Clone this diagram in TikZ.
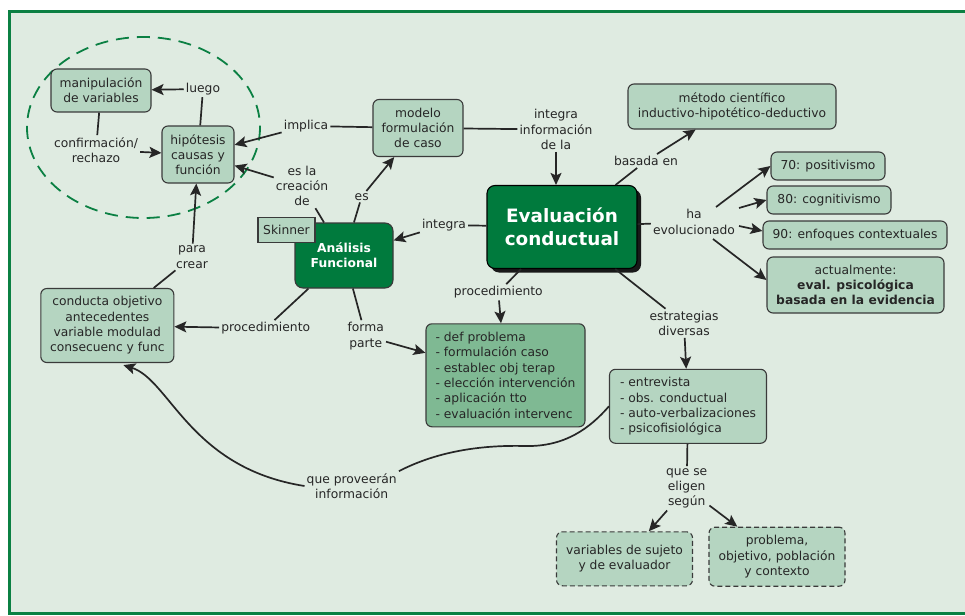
\documentclass[tikz,border=0pt]{standalone}
\usepackage{fontspec}
\setmainfont{DejaVu Sans}
\usetikzlibrary{arrows.meta,shadows,calc}
\definecolor{bg}{HTML}{DFEBE1}
\definecolor{framec}{HTML}{0B8043}
\definecolor{dk}{HTML}{007A3D}
\definecolor{lt}{HTML}{B5D5C1}
\definecolor{md}{HTML}{7FB993}
\definecolor{txt}{HTML}{262626}
\definecolor{edge}{HTML}{3A3A3A}
\begin{document}
\begin{tikzpicture}[x=1pt,y=-1pt,
  every node/.style={font=\fontsize{12.3}{15.3}\selectfont, text=txt},
  box/.style={draw=edge, line width=1.1pt, rounded corners=6pt, fill=lt, align=center, inner sep=0pt},
  dbox/.style={box, dash pattern=on 5pt off 3pt},
  lbl/.style={align=center, inner sep=2pt},
  conn/.style={draw=txt, line width=1.7pt},
  arr/.style={conn, -{Stealth[length=12pt,width=11pt,inset=2.5pt]}},
]
\useasboundingbox (0,0) rectangle (965,615);
\fill[white] (0,0) rectangle (965,615);
\draw[fill=bg, draw=framec, line width=3.5pt] (9.5,11.5) rectangle (990,613.5);
\draw[framec, line width=1.8pt, dash pattern=on 13pt off 8pt] (143.5,127.5) ellipse [x radius=116.5, y radius=90.5];

% concepts
\node[box, minimum width=100pt, minimum height=43pt] (manip) at (101,90.5) {manipulación\\de variables};
\node[box, minimum width=72pt, minimum height=57pt] (hip) at (198,154.5) {hipótesis\\causas y\\función};
\node[box, minimum width=90pt, minimum height=57pt] (modelo) at (418,128) {modelo\\formulación\\de caso};
\node[box, minimum width=208pt, minimum height=45pt] (metodo) at (732,106.5) {método científico\\inductivo-hipotético-deductivo};
\node[box, minimum width=114pt, minimum height=28pt] (p70) at (828,166) {70: positivismo};
\node[box, minimum width=124pt, minimum height=28pt] (p80) at (829,200) {80: cognitivismo};
\node[box, minimum width=184pt, minimum height=28pt] (p90) at (855,235) {90: enfoques contextuales};
\node[box, minimum width=177pt, minimum height=56pt] (act) at (855.5,285) {actualmente:\\\textbf{eval. psicológica}\\\textbf{basada en la evidencia}};
\node[box, fill=dk, draw=black, rounded corners=8pt, minimum width=150pt, minimum height=83pt,
  drop shadow={shadow xshift=4pt, shadow yshift=-4pt, fill=black!90, opacity=1},
  font=\fontsize{18.4}{23}\selectfont\bfseries, text=white] (eval) at (562,227) {Evaluación\\conductual};
\node[box, fill=dk, rounded corners=8pt, minimum width=98pt, minimum height=65pt,
  font=\fontsize{12.3}{15.3}\selectfont\bfseries, text=white] (af) at (344,255.5) {Análisis\\Funcional};
\node[draw=edge, line width=1.1pt, fill=lt, minimum width=57pt, minimum height=25pt, inner sep=0pt] (sk) at (286.5,230) {Skinner};
\node[box, minimum width=133pt, minimum height=74pt] (cond) at (107.3,325.5) {conducta objetivo\\antecedentes\\variable modulad\\consecuenc y func};
\node[box, fill=md, align=left, minimum width=159pt, minimum height=103pt] (defb) at (505.5,375.3) {- def problema\\- formulación caso\\- establec obj terap\\- elección intervención\\- aplicación tto\\- evaluación intervenc};
\node[box, align=left, minimum width=157pt, minimum height=74pt] (entrev) at (688,406.3) {- entrevista\\- obs. conductual\\- auto-verbalizaciones\\- psicofisiológica};
\node[dbox, minimum width=136pt, minimum height=54pt] (vars) at (624.5,558.8) {variables de sujeto\\y de evaluador};
\node[dbox, minimum width=136pt, minimum height=59pt] (prob) at (777,556.7) {problema,\\objetivo, población\\y contexto};

% labels
\node[lbl] (luego) at (203,89) {luego};
\node[lbl] (conf) at (96,150) {confirmación/\\rechazo};
\node[lbl] (implica) at (306,126) {implica};
\node[lbl] (intinfo) at (556,129.5) {integra\\información\\de la};
\node[lbl] (basada) at (646,161) {basada en};
\node[lbl] (ha) at (694,222) {ha\\evolucionado};
\node[lbl] (integra) at (444,225) {integra};
\node[lbl] (es) at (361.7,196.7) {es};
\node[lbl] (escrea) at (302,186) {es la\\creación\\de};
\node[lbl] (para) at (192,257) {para\\crear};
\node[lbl] (procL) at (265.7,328.3) {procedimiento};
\node[lbl] (forma) at (365.7,336) {forma\\parte};
\node[lbl] (procM) at (498.3,292.3) {procedimiento};
\node[lbl] (estr) at (684,323.3) {estrategias\\diversas};
\node[lbl] (prov) at (351.7,486) {que proveerán\\información};
\node[lbl] (elig) at (686.7,488.3) {que se\\eligen\\según};

% connectors
\draw[conn] (hip) -- (luego);
\draw[arr] (luego) -- (manip);
\draw[conn] (manip) -- (conf);
\draw[arr] (conf) -- (hip);
\draw[conn] (modelo) -- (implica);
\draw[arr] (implica) -- (hip);
\draw[conn] (modelo) -- (intinfo);
\draw[arr] (intinfo.south) -- (intinfo.south |- eval.north);
\draw[conn] (eval) -- (basada);
\draw[arr] (basada) -- (metodo);
\draw[conn] (eval) -- (ha);
\draw[arr] ($(ha.center)+(22,-15)$) -- (p70.west);
\draw[arr] ($(ha.center)+(45,-14)$) -- (p80.west);
\draw[arr] ($(ha.center)+(45,4)$) -- ($(p90.west)+(0,-4)$);
\draw[arr] ($(ha.center)+(19,17)$) -- ($(act.west)+(0,-5)$);
\draw[conn] (eval) -- (integra);
\draw[arr] (integra) -- (af);
\draw[conn] (af) -- (es);
\draw[arr] (es) -- (modelo);
\draw[conn] (af) -- (escrea);
\draw[arr] (escrea) -- (hip);
\draw[arr] (para) -- (hip);
\draw[conn] (para) -- (cond);
\draw[conn] (af) -- (procL);
\draw[arr] (procL) -- (cond);
\draw[conn] (af) -- (forma);
\draw[arr] (forma) -- (defb);
\draw[conn] (eval) -- (procM);
\draw[arr] (procM) -- (defb);
\draw[conn] (eval) -- (estr);
\draw[arr] (estr) -- (entrev);
\draw[conn] (entrev) -- (elig);
\draw[arr] (elig) -- (vars);
\draw[arr] (elig) -- (prob);
\draw[conn] (entrev.west) .. controls (590,428) and (565,447) .. (525,446) .. controls (485,445) and (440,450) .. (prov.north east);
\draw[arr] (prov.west) .. controls (190,468) and (170,380) .. ($(cond.south)+(16,2)$);
\end{tikzpicture}
\end{document}
